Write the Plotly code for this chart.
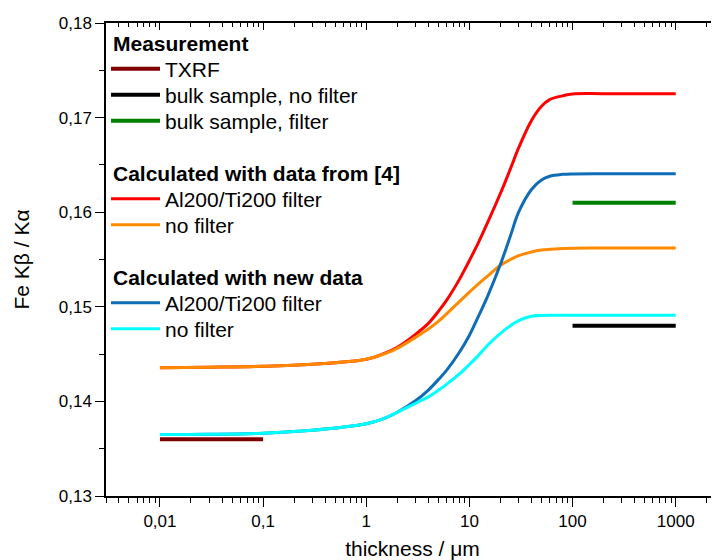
import plotly.graph_objects as go

# ---- data ----
X_TXRF = [0.01, 0.1]
Y_TXRF = [0.136, 0.136]
X_BULK = [100, 1000]
Y_BULK_NOFILTER = [0.148, 0.148]
Y_BULK_FILTER = [0.161, 0.161]

X_CALC = [0.01, 0.03, 0.1, 0.3, 1, 1.5, 2, 3, 4, 5, 6, 8, 10, 12, 15, 20, 25, 30, 40, 50, 60, 80, 100, 200, 1000]
Y_OLD_FILTER = [0.14357, 0.14362, 0.14371, 0.14392, 0.14445, 0.14508, 0.14572, 0.14709, 0.14825,
                0.14952, 0.15068, 0.15290, 0.15490, 0.15660, 0.15890, 0.16200, 0.16460, 0.16680,
                0.16970, 0.17120, 0.17190, 0.17230, 0.17250, 0.17253, 0.17253]
Y_OLD_NOFILTER = [0.14357, 0.14362, 0.14371, 0.14392, 0.14445, 0.14503, 0.14561, 0.14677, 0.14765,
                  0.14845, 0.14925, 0.15055, 0.15155, 0.15235, 0.15325, 0.15440, 0.15500, 0.15540,
                  0.15580, 0.15600, 0.15608, 0.15616, 0.15620, 0.15621, 0.15621]
Y_NEW_FILTER = [0.13649, 0.13652, 0.13663, 0.13694, 0.13763, 0.13821, 0.13885, 0.14006, 0.14120,
                0.14230, 0.14328, 0.14520, 0.14700, 0.14880, 0.15111, 0.15450, 0.15750, 0.16000,
                0.16240, 0.16340, 0.16380, 0.16400, 0.16405, 0.16407, 0.16407]
Y_NEW_NOFILTER = [0.13649, 0.13652, 0.13663, 0.13694, 0.13763, 0.13821, 0.13885, 0.13980, 0.14048,
                  0.14117, 0.14180, 0.14290, 0.14390, 0.14476, 0.14593, 0.14720, 0.14800, 0.14855,
                  0.14900, 0.14908, 0.14910, 0.14910, 0.14910, 0.14910, 0.14910]

X_TICKVALS = [0.01, 0.1, 1, 10, 100, 1000]
X_TICKTEXT = ["0,01", "0,1", "1", "10", "100", "1000"]
Y_TICKVALS = [0.13, 0.14, 0.15, 0.16, 0.17, 0.18]
Y_TICKTEXT = ["0,13", "0,14", "0,15", "0,16", "0,17", "0,18"]

GROUP_TITLES = ["Measurement", "Calculated with data from [4]", "Calculated with new data"]

FONT = "Liberation Sans, Arial, sans-serif"
XR = [-2.5229, 3.4196]
YR = [0.13, 0.18]

# page body has an 8px margin; figure sized so its right/bottom edges meet the window
OFF = 8
W, H = 711, 552
ML, MR, MT, MB = 98, 0, 15, 64
PW = W - ML - MR
PH = H - MT - MB


def py(screen_y):
    return 1 - (screen_y - OFF - MT) / PH


def px(screen_x):
    return (screen_x - OFF - ML) / PW


fig = go.Figure()

LEG_FONT = dict(size=21, family=FONT, color="black")
legend_rows = []


def add(x, y, name, color, width, row_y):
    k = len(legend_rows) + 1
    lname = "legend" if k == 1 else "legend%d" % k
    legend_rows.append((lname, row_y))
    fig.add_trace(go.Scatter(
        x=x, y=y, mode="lines", name=name, legend=lname,
        line=dict(color=color, width=width, shape="spline", smoothing=1.0),
    ))


add(X_CALC, Y_OLD_FILTER, "Al200/Ti200 filter", "#ff0000", 3, 199)
add(X_CALC, Y_OLD_NOFILTER, "no filter", "#ff8a00", 3, 225)
add(X_CALC, Y_NEW_FILTER, "Al200/Ti200 filter", "#0f6cb6", 3, 303)
add(X_CALC, Y_NEW_NOFILTER, "no filter", "#00ffff", 3, 329)
add(X_TXRF, Y_TXRF, "TXRF", "#800000", 4, 69)
add(X_BULK, Y_BULK_NOFILTER, "bulk sample, no filter", "#000000", 4, 95)
add(X_BULK, Y_BULK_FILTER, "bulk sample, filter", "#008000", 4, 121)

# empty helper trace to activate the mirrored (top/right) axes
fig.add_trace(go.Scatter(x=[], y=[], xaxis="x2", yaxis="y2", showlegend=False, hoverinfo="skip"))

legends = {}
for lname, row_y in legend_rows:
    legends[lname] = dict(x=px(106), y=py(row_y), xanchor="left", yanchor="middle",
                          font=LEG_FONT, bgcolor="rgba(0,0,0,0)", itemwidth=49,
                          borderwidth=0)

annotations = []
for title, ty in zip(GROUP_TITLES, [43, 173, 277]):
    annotations.append(dict(text="<b>" + title + "</b>", x=px(111), y=py(ty),
                            xref="paper", yref="paper", xanchor="left", yanchor="middle",
                            showarrow=False, font=LEG_FONT))

fig.update_layout(
    width=W, height=H,
    margin=dict(l=ML, r=MR, t=MT, b=MB),
    paper_bgcolor="white", plot_bgcolor="white",
    font=dict(family=FONT, size=17, color="black"),
    showlegend=True,
    annotations=annotations,
    xaxis=dict(type="log", range=XR, showgrid=False, zeroline=False, automargin=False,
               showline=True, linecolor="black", linewidth=1.5,
               ticks="outside", ticklen=9, tickwidth=1.3, tickcolor="black",
               tickvals=X_TICKVALS, ticktext=X_TICKTEXT,
               tickfont=dict(size=17, family=FONT),
               minor=dict(ticks="outside", ticklen=5, tickwidth=1.2, tickcolor="black",
                          dtick="D1", showgrid=False),
               title=dict(text="thickness / μm", font=dict(size=21, family=FONT), standoff=12)),
    yaxis=dict(range=YR, showgrid=False, zeroline=False, automargin=False,
               showline=True, linecolor="black", linewidth=1.5,
               ticks="outside", ticklen=9, tickwidth=1.3, tickcolor="black",
               tickvals=Y_TICKVALS, ticktext=Y_TICKTEXT,
               tickfont=dict(size=17, family=FONT),
               minor=dict(ticks="outside", ticklen=5, tickwidth=1.2, tickcolor="black",
                          dtick=0.005, showgrid=False),
               title=dict(text="Fe Kβ / Kα", font=dict(size=21, family=FONT), standoff=23)),
    xaxis2=dict(type="log", range=XR, overlaying="x", side="top", showgrid=False,
                zeroline=False, automargin=False, showline=True, linecolor="black", linewidth=1.5,
                ticks="inside", ticklen=7, tickwidth=1.3, tickcolor="black",
                tickvals=X_TICKVALS, showticklabels=False,
                minor=dict(ticks="inside", ticklen=4, tickwidth=1.2, tickcolor="black",
                           dtick="D1", showgrid=False)),
    yaxis2=dict(range=YR, overlaying="y", side="right", showgrid=False, zeroline=False,
                automargin=False, showline=False, ticks="inside", ticklen=3, tickwidth=1.3,
                tickcolor="black", tickvals=Y_TICKVALS, showticklabels=False),
    **legends,
)

fig.write_html("out.html")
